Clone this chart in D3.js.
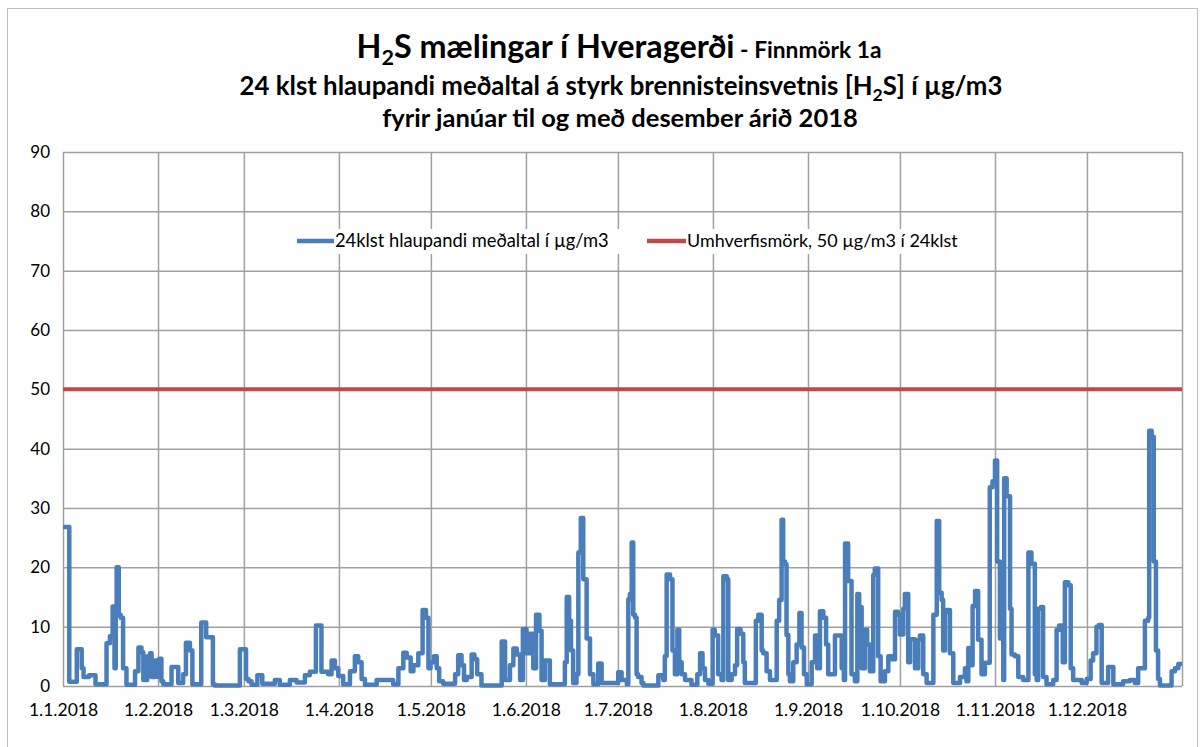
<!DOCTYPE html>
<html>
<head>
<meta charset="utf-8">
<script src="https://cdn.jsdelivr.net/npm/d3@7"></script>
<style>
  body { margin: 0; background: #fff; }
  svg { display: block; }
  text { font-family: Lato, "Open Sans", sans-serif; fill: #000; }
</style>
</head>
<body>
<div id="chart"></div>
<script>
// month labels on the x axis and the day of year where each starts
var monthLabels = ["1.1.2018", "1.2.2018", "1.3.2018", "1.4.2018", "1.5.2018", "1.6.2018",
                   "1.7.2018", "1.8.2018", "1.9.2018", "1.10.2018", "1.11.2018", "1.12.2018"];
var monthDays = [0, 31, 59, 90, 120, 151, 181, 212, 243, 273, 304, 334, 365];
var yTicks = [0, 10, 20, 30, 40, 50, 60, 70, 80, 90];

// limit value (umhverfismörk)
var limitValue = 50;

// 24h running mean (day of year, µg/m3), step shaped
var h2sDay = [0, 2.05, 4.5, 6.1, 6.7, 8.5, 10.6, 14.2, 15.3, 16.2, 16.8, 17.2, 17.5, 18.2, 18.8, 19.6, 20.7,
  23.5, 24.6, 25.6, 26.2, 27.5, 28.4, 28.9, 30, 30.8, 31.4, 32.1, 32.7, 35.4, 37.6, 39.2, 40.1, 41.4, 42.2,
  45.1, 46.7, 48.9, 49.5, 57.7, 59.7, 60.5, 61.5, 63.4, 65, 69.1, 70.7, 74, 76.2, 78.9, 80.5, 82.5, 84.3,
  86.5, 87.6, 88.7, 89.8, 91.4, 93.6, 95.2, 96.3, 97.4, 98.5, 102.3, 107.7, 109.4, 111, 112.1, 113.4, 114.3,
  115.9, 117.3, 118.4, 119.2, 119.9, 121, 121.9, 122.7, 124, 127.9, 128.9, 130, 130.8, 131.7, 133.3, 134.2,
  135.1, 136.5, 143.1, 144.2, 145.8, 146.9, 148, 149.1, 150, 151.2, 152.3, 153.4, 154.3, 155.4, 156.1,
  157.2, 158.8, 163.7, 164.3, 165.1, 165.7, 166.4, 167.5, 168.1, 168.9, 169.7, 170.8, 171.9, 173, 174.6,
  175.7, 181.1, 182.2, 183.9, 184.4, 184.9, 185.5, 186, 186.6, 187.1, 187.6, 188.7, 189.3, 194.2, 195.8,
  196.3, 196.9, 198, 198.8, 199.6, 200.4, 201, 201.8, 202.9, 205, 206.9, 207.8, 208.6, 209.4, 210.5,
  211.9, 212.6, 213.7, 214.8, 215.4, 216.5, 217, 218.1, 219.2, 219.9, 221, 221.9, 222.4, 226, 226.8,
  227.9, 228.4, 229.5, 230.6, 232.8, 233.6, 234.4, 234.9, 235.5, 236, 236.6, 237.1, 238.2, 239.3, 240.2,
  240.9, 241.7, 242.6, 244.2, 245.3, 246, 246.9, 248, 248.9, 249.6, 251.8, 254, 254.7, 255.1, 256.1,
  257.2, 258.3, 259.1, 259.7, 260.5, 261.6, 262.3, 263.2, 264.3, 264.8, 265.9, 266.7, 268.1, 269.2,
  270.3, 271.4, 272.4, 273, 274.1, 274.6, 275.7, 276.3, 277.9, 279, 279.5, 280.6, 281.7, 283.9, 285,
  285.8, 286.6, 287.1, 287.7, 288.2, 289.3, 290.4, 292.6, 294.2, 294.7, 295.3, 295.8, 296.7, 297.5, 298.5,
  299.6, 300.7, 302.3, 303.2, 304, 304.7, 305.6, 306.7, 307, 307.8, 308.9, 309.4, 310.5, 311.6, 313.2,
  314.9, 315.9, 317, 317.6, 318.1, 319, 319.7, 320.8, 323, 324.1, 324.9, 326.1, 326.8, 327.9, 328.7,
  329.5, 332.3, 333.9, 335.2, 336, 337.1, 337.9, 338.8, 340.9, 342.6, 345.8, 348, 349.6, 350.7, 352.9,
  354, 354.3, 355.1, 355.8, 356.5, 357.2, 357.8, 361.6, 362.7, 363.8, 365];
var h2sValue = [26.8, 0.7, 6.2, 3, 1.5, 1.8, 0.3, 7.2, 8.4, 13.4, 3, 13, 20, 12, 11.5, 3, 0.2,
  2.5, 6.5, 5.7, 1, 5, 5.5, 1.5, 4.3, 1.5, 4.6, 0.8, 0.3, 3.2, 0.5, 2, 7.3, 6, 0.3,
  10.7, 8.2, 0.3, 0.1, 6.2, 1.2, 0.8, 0.2, 1.8, 0.4, 1, 0.2, 1, 0.6, 1.8, 2.4, 10.2, 2.4,
  2, 4.3, 3, 1.7, 0.3, 2.5, 5, 4, 1.2, 0.2, 1, 0.3, 3, 5.6, 4.8, 2.5, 3.5,
  5.5, 12.8, 11.5, 3, 4, 5, 3, 0.8, 0.4, 2, 5.2, 3.5, 1, 1.5, 5.3, 4.5,
  2, 0.1, 7.5, 1, 3.5, 6.3, 5.3, 1, 9.6, 5.5, 8.8, 3, 12, 9.3, 1,
  4.3, 0.3, 4, 15, 11, 6, 0.5, 2, 22.5, 28.3, 18, 8, 2, 0.3, 3.8,
  0.5, 2.3, 1, 0.3, 14.6, 15.5, 24.2, 12, 11.5, 2, 1.5, 0.5, 0.1, 1.8, 1,
  5, 18.8, 18, 6, 2, 9.5, 4, 2, 1, 0.2, 2, 5.5, 3, 1, 0.4,
  9.5, 8.5, 2, 1, 18.5, 18, 1, 2, 3.5, 9.6, 8.8, 4, 0.5, 11, 12,
  6, 5.5, 2.5, 1, 11, 14.5, 28, 21, 20.5, 8.6, 2, 0.8, 4, 7, 12.3,
  6.5, 2, 0.3, 4, 8.5, 3, 12.6, 11.5, 7, 2, 8.5, 3, 1, 24, 17.7,
  2, 0.8, 15.5, 13.3, 3, 9.5, 7, 2.5, 18.7, 19.8, 5, 0.8, 2.5, 5,
  4.5, 12.5, 12, 8.7, 13, 15.5, 4, 7.9, 3, 7.7, 8.5, 2, 0.5, 12, 27.8,
  15.7, 14.5, 6, 12.5, 12.8, 5.5, 0.5, 1.5, 3, 0.8, 6.4, 3.5, 13.5, 16, 7.8,
  2, 3.9, 33.5, 34.5, 38, 21, 8, 1, 35, 32, 13, 5.3, 5, 1.5, 1,
  22.5, 20.6, 2, 1, 13, 13.3, 1.5, 0.3, 1, 9.5, 10.2, 4, 17.5, 17, 3,
  1, 0.5, 1.2, 4.3, 5.5, 10, 10.3, 0.5, 3.2, 0.3, 0.8, 1, 0.5, 3, 11,
  11.5, 43, 42, 21, 6, 1.2, 0.1, 2.5, 3, 3.7, 3.7];

var seriesLabel = "24klst hlaupandi meðaltal í µg/m3";
var limitLabel = "Umhverfismörk, 50 µg/m3 í 24klst";

var width = 1200, height = 747;
var plot = {left: 63, right: 1182, top: 152, bottom: 686};

var svg = d3.select("#chart").append("svg")
    .attr("width", width)
    .attr("height", height);

// scales a text (and its tspans) so it is as wide as the reference
function fitWidth(sel, target) {
    var w = sel.node().getComputedTextLength();
    var k = target / w;
    var nodes = [sel.node()].concat(sel.selectAll("tspan").nodes());
    nodes.forEach(function (n) {
        var s = d3.select(n);
        var fs = parseFloat(n.style.fontSize);
        if (fs) s.style("font-size", (fs * k) + "px");
        var dy = parseFloat(s.attr("dy"));
        if (dy) s.attr("dy", dy * k);
    });
}

// chart area frame (excel sheet look)
svg.append("rect")
    .attr("x", 7.5).attr("y", 8.5)
    .attr("width", 1190).attr("height", 760)
    .attr("fill", "#fff")
    .attr("stroke", "#bfbfbf")
    .attr("stroke-width", 1);

var x = d3.scaleLinear().domain([0, 365]).range([plot.left, plot.right]);
var y = d3.scaleLinear().domain([0, 90]).range([plot.bottom, plot.top]);

// horizontal grid + y labels
var yAxis = svg.append("g")
    .attr("transform", "translate(" + plot.left + ",0)")
    .call(d3.axisLeft(y).tickValues(yTicks)
        .tickSize(-(plot.right - plot.left))
        .tickPadding(13)
        .tickFormat(d3.format("d")));
yAxis.select(".domain").remove();
yAxis.selectAll("line").attr("stroke", "#a0a0a0").attr("stroke-width", 1.5);
yAxis.selectAll("text").style("font-size", "17px").attr("fill", "#000");

// vertical grid at month starts
var xGrid = svg.append("g")
    .attr("transform", "translate(0," + plot.bottom + ")")
    .call(d3.axisBottom(x).tickValues(monthDays)
        .tickSize(-(plot.bottom - plot.top))
        .tickFormat(""));
xGrid.select(".domain").remove();
xGrid.selectAll("line").attr("stroke", "#a0a0a0").attr("stroke-width", 1.5);

// month labels
var xAxis = svg.append("g")
    .attr("transform", "translate(0," + plot.bottom + ")")
    .call(d3.axisBottom(x).tickValues(monthDays.slice(0, 12))
        .tickSize(0)
        .tickPadding(18)
        .tickFormat(function (d, i) { return monthLabels[i]; }));
xAxis.select(".domain").remove();
xAxis.selectAll("text").style("font-size", "17.5px").attr("fill", "#000");

// legend box (white, hides grid)
var legend = svg.append("g");
legend.append("rect")
    .attr("x", 290).attr("y", 229)
    .attr("width", 676).attr("height", 25)
    .attr("fill", "#fff");
legend.append("line")
    .attr("x1", 297).attr("x2", 334).attr("y1", 241).attr("y2", 241)
    .attr("stroke", "#4a7ebb").attr("stroke-width", 4.5);
var lt1 = legend.append("text")
    .attr("x", 335).attr("y", 247)
    .style("font-size", "17px")
    .text(seriesLabel);
fitWidth(lt1, 274);
legend.append("line")
    .attr("x1", 647).attr("x2", 686).attr("y1", 241).attr("y2", 241)
    .attr("stroke", "#be4b48").attr("stroke-width", 4.5);
var lt2 = legend.append("text")
    .attr("x", 687).attr("y", 247)
    .style("font-size", "17px")
    .text(limitLabel);
fitWidth(lt2, 271);

// data line
var points = h2sDay.map(function (d, i) { return [d, h2sValue[i]]; });
var line = d3.line()
    .x(function (d) { return x(d[0]); })
    .y(function (d) { return y(d[1]); })
    .curve(d3.curveStepAfter);

svg.append("path")
    .datum(points)
    .attr("d", line)
    .attr("fill", "none")
    .attr("stroke", "#4a7ebb")
    .attr("stroke-width", 4.5)
    .attr("stroke-linejoin", "round");

// limit line
svg.append("line")
    .attr("x1", x(0)).attr("x2", x(365))
    .attr("y1", y(limitValue)).attr("y2", y(limitValue))
    .attr("stroke", "#be4b48")
    .attr("stroke-width", 4);

// title, three lines
var cx = 619;
var t1 = svg.append("text").attr("x", cx).attr("y", 58)
    .attr("text-anchor", "middle").style("font-weight", "bold").style("font-size", "27px");
t1.append("tspan").style("font-size", "27px").text("H");
t1.append("tspan").style("font-size", "18px").attr("dy", 6).text("2");
t1.append("tspan").style("font-size", "27px").attr("dy", -6).text("S mælingar í Hveragerði");
t1.append("tspan").style("font-size", "19px").text(" - Finnmörk 1a");
fitWidth(t1, 525);

var t2 = svg.append("text").attr("x", 621).attr("y", 95)
    .attr("text-anchor", "middle").style("font-weight", "bold").style("font-size", "22px");
t2.append("tspan").style("font-size", "22px").text("24 klst hlaupandi meðaltal á styrk brennisteinsvetnis [H");
t2.append("tspan").style("font-size", "15px").attr("dy", 5).text("2");
t2.append("tspan").style("font-size", "22px").attr("dy", -5).text("S] í µg/m3");
fitWidth(t2, 763);

var t3 = svg.append("text").attr("x", 620).attr("y", 127)
    .attr("text-anchor", "middle").style("font-weight", "bold").style("font-size", "22px")
    .text("fyrir janúar til og með desember árið 2018");
fitWidth(t3, 476);
</script>
</body>
</html>
